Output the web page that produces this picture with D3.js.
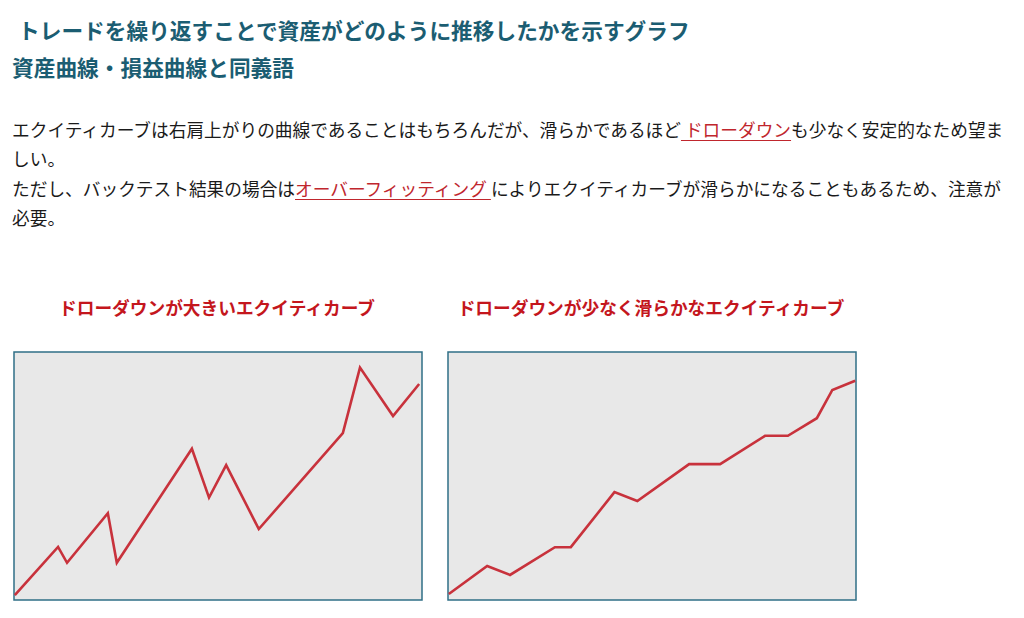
<!DOCTYPE html>
<html lang="ja">
<head>
<meta charset="UTF-8">
<title>エクイティカーブ</title>
<style>
body {
  margin: 0;
  background: #fff;
  font-family: 'Noto Sans CJK JP', sans-serif;
  color: #1a1a1a;
}
#page {
  position: relative;
  width: 1024px;
  height: 618px;
  overflow: hidden;
}
.h1, .h2, .para, .ctitle {
  position: absolute;
  white-space: nowrap;
}
.h1 {
  left: 18px;
  top: 19px;
  font-size: 21.7px;
  line-height: 22px;
  font-weight: bold;
  color: #1b5d72;
}
.h2 {
  left: 12px;
  top: 56px;
  font-size: 21.7px;
  line-height: 22px;
  font-weight: bold;
  color: #1b5d72;
}
.para {
  left: 12px;
  top: 115px;
  font-size: 17.7px;
  line-height: 29.3px;
}
.para a {
  color: #c0262d;
  text-decoration: underline;
  text-underline-offset: 3px;
}
.ctitle {
  top: 297px;
  font-size: 17.7px;
  line-height: 20px;
  font-weight: bold;
  color: #c4161d;
  text-align: center;
  width: 408px;
}
svg {
  position: absolute;
  left: 0;
  top: 0;
}
</style>
</head>
<body>
<div id="page">
  <div class="h1">トレードを繰り返すことで資産がどのように推移したかを示すグラフ</div>
  <div class="h2">資産曲線・損益曲線と同義語</div>
  <div class="para">エクイティカーブは右肩上がりの曲線であることはもちろんだが、滑らかであるほど<a> ドローダウン</a>も少なく安定的なため望ま<br>しい。<br>ただし、バックテスト結果の場合は<a>オーバーフィッティング </a>によりエクイティカーブが滑らかになることもあるため、注意が<br>必要。</div>
  <div class="ctitle" style="left:13px">ドローダウンが大きいエクイティカーブ</div>
  <div class="ctitle" style="left:447px">ドローダウンが少なく滑らかなエクイティカーブ</div>
</div>

<script src="https://cdn.jsdelivr.net/npm/d3@7"></script>
<script>
// left chart: big drawdowns
var roughX = [0.2, 10.8, 13, 23, 25.2, 43.6, 47.8, 52, 60, 80.6, 84.8, 92.9, 99.3];
var roughY = [2, 21.4, 15, 35, 15, 61, 41.3, 54.4, 28.6, 67.3, 93.7, 74.2, 87.1];

// right chart: smooth curve
var smoothX = [0.2, 9.6, 15.2, 26.2, 30.1, 40.8, 46.4, 59.1, 66.7, 77.7, 83.3, 90.4, 94.2, 99.8];
var smoothY = [2.4, 13.7, 10.1, 21.3, 21.3, 43.5, 39.9, 54.8, 54.8, 66.2, 66.2, 73.3, 84.7, 88.4];

var boxW = 408;
var boxH = 248;

var svg = d3.select('#page')
  .append('svg')
  .attr('width', 1024)
  .attr('height', 618);

var x = d3.scaleLinear().domain([0, 100]).range([0, boxW]);
var y = d3.scaleLinear().domain([0, 100]).range([boxH, 0]);

var line = d3.line()
  .x(function (d) { return x(d[0]); })
  .y(function (d) { return y(d[1]); });

function drawChart(left, top, xs, ys) {
  var g = svg.append('g')
    .attr('transform', 'translate(' + left + ',' + top + ')');

  g.append('rect')
    .attr('x', 0)
    .attr('y', 0)
    .attr('width', boxW)
    .attr('height', boxH)
    .attr('fill', '#e8e8e8')
    .attr('stroke', '#2f6f86')
    .attr('stroke-width', 1.5);

  var pts = xs.map(function (v, i) { return [v, ys[i]]; });

  g.append('path')
    .datum(pts)
    .attr('d', line)
    .attr('fill', 'none')
    .attr('stroke', '#c8323c')
    .attr('stroke-width', 2.6)
    .attr('stroke-linejoin', 'miter');
}

drawChart(14, 352, roughX, roughY);
drawChart(448, 352, smoothX, smoothY);
</script>
</body>
</html>
